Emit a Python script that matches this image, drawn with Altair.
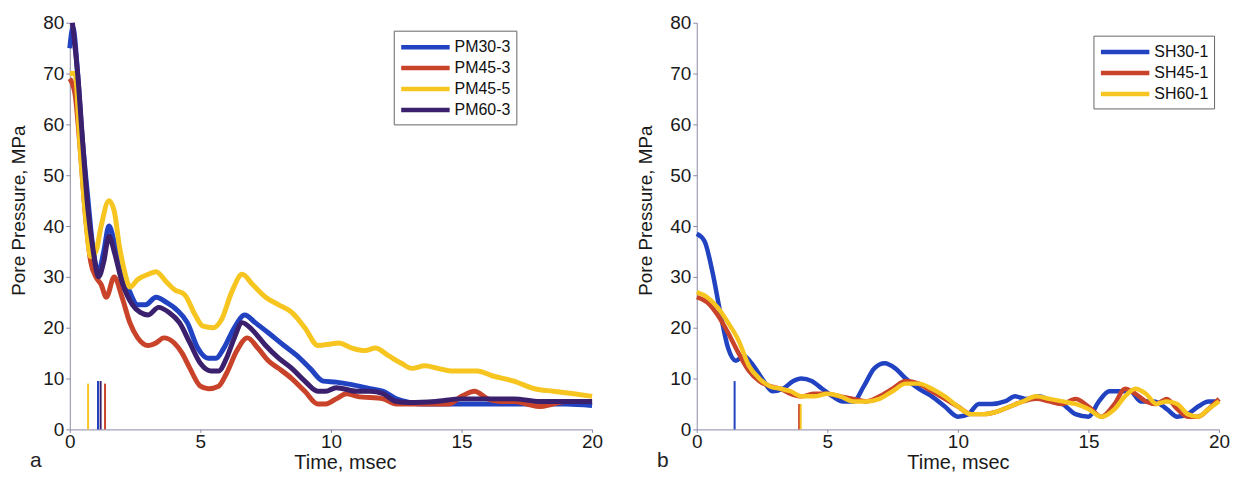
import altair as alt
import pandas as pd

# ---------------- Panel a data ----------------
pm30_3_t = [0, 0.12, 0.3, 0.45, 0.7, 0.9, 1.1, 1.3, 1.5, 1.7, 2.0, 2.3, 2.6, 2.9, 3.3, 3.7, 4.1, 4.5, 4.9, 5.3, 5.6, 5.9, 6.3, 6.7, 7.1, 7.6, 8.2, 8.7, 9.2, 9.7, 10.2, 10.8, 11.5, 12.0, 12.5, 13.0, 13.5, 14, 15, 16, 17, 18, 19, 20]
pm30_3_v = [75, 79, 70, 59, 45, 35, 31, 35, 40, 37, 31, 27, 24.5, 24.5, 26, 25, 23.5, 21, 16, 14, 14, 16, 20, 22.5, 21, 19, 16.5, 14.5, 12, 9.5, 9.3, 8.8, 8, 7.5, 6, 5.3, 5, 5, 5, 5, 5, 5, 5, 4.7]

pm45_3_t = [0, 0.2, 0.4, 0.6, 0.8, 1.0, 1.2, 1.4, 1.7, 2.0, 2.3, 2.6, 3.0, 3.3, 3.6, 4.0, 4.3, 4.6, 5.0, 5.3, 5.7, 6.0, 6.4, 6.8, 7.2, 7.6, 8.0, 8.5, 9.0, 9.5, 9.8, 10.2, 10.6, 11, 12, 12.5, 13, 14, 14.5, 15, 15.5, 16, 16.5, 17, 17.5, 18, 18.5, 19, 20]
pm45_3_v = [69, 66, 55, 42, 33, 30, 28.5, 26, 30, 26, 21, 18, 16.5, 17, 18, 17, 15, 12, 8.5, 8, 8.5, 11, 15.5, 18, 16, 13.5, 12, 10, 7.5, 5, 5, 6, 7, 6.5, 6, 5, 5, 5, 5, 6.5, 7.5, 6, 5.5, 5.5, 5, 4.5, 5, 5.5, 5.5]

pm45_5_t = [0, 0.2, 0.4, 0.6, 0.8, 1.0, 1.2, 1.5, 1.7, 1.9, 2.1, 2.3, 2.6, 3.0, 3.3, 3.7, 4.0, 4.4, 4.8, 5.1, 5.5, 5.8, 6.2, 6.6, 7.0, 7.5, 8.0, 8.5, 9.0, 9.5, 10.0, 10.3, 10.8, 11.3, 11.7, 12.2, 12.7, 13.1, 13.6, 14.1, 14.6, 15.2, 15.6, 16.2, 17.0, 17.8, 18.5, 19.3, 20]
pm45_5_v = [70, 70, 55, 42, 34, 35, 40, 45, 43, 36, 31, 28, 29.5, 30.5, 31, 29, 27.5, 26.5, 22.5, 20.3, 20, 21.5, 27, 30.5, 28.5, 26, 24.5, 23, 20, 16.5, 16.8, 17, 16, 15.5, 16, 14.5, 13, 12, 12.5, 12, 11.5, 11.5, 11.5, 10.5, 9.5, 8, 7.5, 7, 6.5]

pm60_3_t = [0.1, 0.3, 0.5, 0.7, 0.9, 1.1, 1.3, 1.5, 1.7, 2.0, 2.4, 2.7, 3.0, 3.4, 3.8, 4.2, 4.6, 5.0, 5.4, 5.7, 6.0, 6.3, 6.6, 7.0, 7.5, 8.0, 8.5, 9.0, 9.5, 9.8, 10.2, 11, 11.5, 12, 12.5, 13, 14, 15, 16, 17, 18, 19, 20]
pm60_3_v = [80, 70, 56, 43, 35, 30, 33, 38, 35, 29, 24.5, 23, 22.5, 24, 23, 21, 17, 13, 11.5, 11.5, 14, 18, 21, 19.5, 16.5, 14, 12, 9.5, 7.5, 7.5, 8.2, 7.5, 7.5, 7, 5.5, 5.3, 5.5, 6, 6, 6, 5.5, 5.5, 5.5]

a_names = ["PM30-3", "PM45-3", "PM45-5", "PM60-3"]
a_colors = ["#2143c2", "#c9432a", "#f7c520", "#3b206e"]
a_marker_series = ["PM45-5", "PM30-3", "PM60-3", "PM45-3"]
a_marker_t = [0.7, 1.08, 1.18, 1.35]
a_marker_h = [9, 9.5, 9.5, 9]

# ---------------- Panel b data ----------------
sh30_1_t = [0, 0.3, 0.6, 0.9, 1.2, 1.5, 1.8, 2.1, 2.5, 2.9, 3.3, 3.7, 4.0, 4.4, 4.8, 5.2, 5.6, 6.0, 6.4, 6.8, 7.2, 7.6, 8.0, 8.5, 9.0, 9.5, 10.0, 10.4, 10.8, 11.3, 11.8, 12.2, 12.6, 13.1, 13.6, 14.0, 14.5, 15.0, 15.4, 15.8, 16.2, 16.6, 17.0, 17.5, 18.0, 18.4, 18.8, 19.2, 19.6, 20]
sh30_1_v = [38.5, 37, 31, 23, 16, 13.5, 14.5, 13, 10, 7.5, 8, 9.5, 10, 9.5, 8, 6.5, 5.5, 5.5, 8.5, 12, 13, 12, 10, 8, 6.5, 4.5, 2.5, 3, 5, 5, 5.5, 6.5, 6, 6.5, 5.5, 5, 3, 2.5, 5.5, 7.5, 7.5, 7.5, 5.5, 5.5, 4, 2.5, 3, 4.5, 5.5, 5.5]

sh45_1_t = [0, 0.4, 0.8, 1.2, 1.6, 2.0, 2.4, 2.8, 3.2, 3.6, 4.0, 4.5, 5.0, 5.5, 6.0, 6.5, 7.0, 7.5, 8.0, 8.5, 9.0, 9.5, 10.0, 10.5, 11.0, 11.5, 12.0, 12.5, 13.0, 13.5, 14.0, 14.5, 15.0, 15.5, 16.0, 16.4, 16.8, 17.2, 17.6, 18.0, 18.4, 18.8, 19.2, 19.6, 20]
sh45_1_v = [26, 25, 22.5, 19, 15, 11.5, 9.5, 8.5, 8, 7, 6.5, 7, 7, 6.5, 6, 5.5, 6.5, 8, 9.5, 9, 7.5, 6, 4.5, 3, 3, 3.5, 4.5, 5.5, 6, 5.5, 5, 6, 4.5, 2.5, 5, 8, 7, 5.5, 5, 6, 4, 2.5, 2.5, 4, 6]

sh60_1_t = [0, 0.4, 0.8, 1.2, 1.6, 2.0, 2.4, 2.8, 3.2, 3.6, 4.0, 4.5, 5.0, 5.5, 6.0, 6.5, 7.0, 7.5, 8.0, 8.5, 9.0, 9.5, 10.0, 10.5, 11.0, 11.5, 12.0, 12.5, 13.0, 13.5, 14.0, 14.5, 15.0, 15.5, 16.0, 16.4, 16.8, 17.2, 17.6, 18.0, 18.4, 18.8, 19.2, 19.6, 20]
sh60_1_v = [27, 26, 24, 21, 17.5, 12.5, 10, 8.5, 8, 7.5, 6.5, 6.5, 7, 6.5, 5.5, 5.5, 6, 7.5, 9, 9, 8, 6.5, 4.5, 3, 3, 3.5, 4.5, 5.5, 6.5, 6, 5.5, 5, 4, 2.5, 4, 6.5, 8, 7, 5, 5.5, 5, 3, 2.5, 4, 5.5]

b_names = ["SH30-1", "SH45-1", "SH60-1"]
b_colors = ["#2143c2", "#c9432a", "#f7c520"]
b_marker_series = ["SH30-1", "SH45-1", "SH60-1"]
b_marker_t = [1.45, 3.92, 3.98]
b_marker_h = [9.5, 5, 5]

x_ticks = [0, 5, 10, 15, 20]
y_ticks = [0, 10, 20, 30, 40, 50, 60, 70, 80]


def series_df(names, ts, vs):
    rows = []
    for i, (n, t, v) in enumerate(zip(names, ts, vs)):
        for a, b in zip(t, v):
            rows.append({"series": n, "t": a, "p": b, "ord": i})
    return pd.DataFrame(rows)


def marker_df(names, ts, hs):
    return pd.DataFrame({"series": names, "t": ts, "h": hs, "z": [0] * len(names)})


FONT = "Liberation Sans"


def panel(df, mdf, names, colors, letter, w, h, lx, ly, sw, xtitle_x):
    color = alt.Color(
        "series:N",
        scale=alt.Scale(domain=names, range=colors),
        legend=alt.Legend(
            title=None, orient="none", legendX=lx, legendY=ly,
            symbolType="M-1,0L4.4,0", symbolStrokeWidth=4.5, symbolSize=324,
            labelFont=FONT, labelFontSize=16, labelColor="#111",
            fillColor="white", strokeColor="#666", padding=5,
            rowPadding=-3, labelOffset=33, labelLimit=200,
        ),
    )
    x = alt.X("t:Q", title="Time, msec",
              scale=alt.Scale(domain=[0, 20], nice=False),
              axis=alt.Axis(values=x_ticks, format="d", titleY=39, titleX=xtitle_x,
                            titleBaseline="alphabetic", titleFontSize=20,
                            labelFlush=False, labelPadding=0, tickSize=3))
    lines = alt.Chart(df).mark_line(strokeWidth=sw, interpolate="monotone").encode(
        x=x,
        y=alt.Y("p:Q", title="Pore Pressure, MPa",
                scale=alt.Scale(domain=[0, 80], nice=False),
                axis=alt.Axis(values=y_ticks, format="d", titleFontSize=19,
                              titlePadding=14, titleY=188, labelPadding=2)),
        color=color,
        order=alt.Order("ord:Q"),
        detail="series:N",
    )
    rules = alt.Chart(mdf).mark_rule(strokeWidth=2).encode(
        x=alt.X("t:Q"),
        y=alt.Y("z:Q"),
        y2="h:Q",
        color=alt.Color("series:N", scale=alt.Scale(domain=names, range=colors), legend=None),
    )
    return alt.layer(lines, rules).properties(
        width=w, height=h,
        title=alt.TitleParams(letter, orient="bottom", anchor="start", frame="group",
                              fontSize=21, font=FONT, fontWeight="normal",
                              baseline="alphabetic",
                              color="#222", offset=-5, dx=-40),
    )


a_df = series_df(a_names, [pm30_3_t, pm45_3_t, pm45_5_t, pm60_3_t],
                 [pm30_3_v, pm45_3_v, pm45_5_v, pm60_3_v])
b_df = series_df(b_names, [sh30_1_t, sh45_1_t, sh60_1_t],
                 [sh30_1_v, sh45_1_v, sh60_1_v])

left = panel(a_df, marker_df(a_marker_series, a_marker_t, a_marker_h),
             a_names, a_colors, "a", 524, 408, 325, 8, 5, 276)
right = panel(b_df, marker_df(b_marker_series, b_marker_t, b_marker_h),
              b_names, b_colors, "b", 524, 408, 398, 13, 4.5, 262)

chart = alt.hconcat(left, right, spacing=33).resolve_scale(
    color="independent"
).resolve_legend(color="independent").configure_view(stroke=None).configure_axis(
    grid=False, labelFont=FONT, titleFont=FONT, labelFontSize=19, titleFontSize=20,
    titleFontWeight="normal", labelColor="#1a1a1a", titleColor="#1a1a1a",
    domainColor="#8a8aa8", tickColor="#8a8aa8", tickSize=4,
).properties(background="white", padding={"left": 1, "top": 4, "right": 0, "bottom": 0})

chart.save("out.html", embed_options={"renderer": "svg", "actions": False})
